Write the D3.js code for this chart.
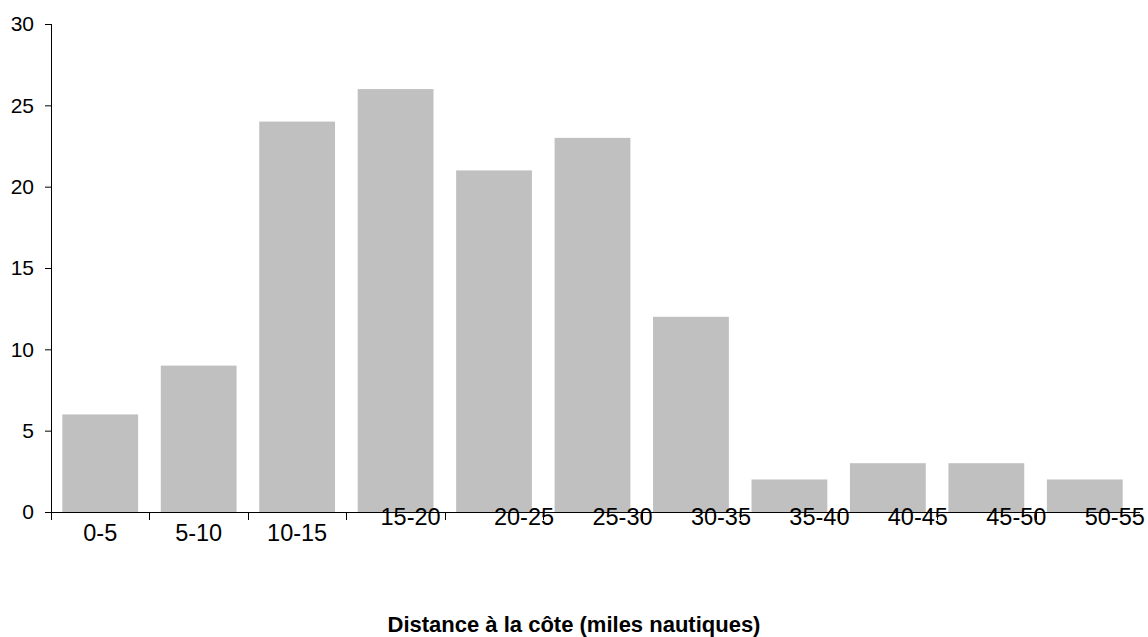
<!DOCTYPE html>
<html>
<head>
<meta charset="utf-8">
<script src="https://cdn.jsdelivr.net/npm/d3@7"></script>
<style>
  body { margin: 0; background: #fff; }
  svg text { font-family: "Liberation Sans", Arial, sans-serif; fill: #000; }
</style>
</head>
<body>
<svg id="chart" width="1148" height="637"></svg>
<script>
var categories = ['0-5', '5-10', '10-15', '15-20', '20-25', '25-30', '30-35', '35-40', '40-45', '45-50', '50-55'];
var counts = [6, 9, 24, 26, 21, 23, 12, 2, 3, 3, 2];
var yTicks = [0, 5, 10, 15, 20, 25, 30];
var xTitle = 'Distance à la côte (miles nautiques)';

var plotLeft = 51, plotRight = 1134, plotTop = 24, plotBottom = 512;

var svg = d3.select('#chart');

var x = d3.scaleBand()
  .domain(categories)
  .range([plotLeft, plotRight])
  .paddingInner(0.23)
  .paddingOuter(0.115);

var y = d3.scaleLinear()
  .domain([0, 30])
  .range([plotBottom, plotTop]);

// bars
svg.append('g')
  .selectAll('rect')
  .data(categories)
  .enter().append('rect')
  .attr('x', function(d) { return x(d); })
  .attr('width', x.bandwidth())
  .attr('y', function(d, i) { return y(counts[i]); })
  .attr('height', function(d, i) { return y(0) - y(counts[i]); })
  .style('fill', '#c0c0c0');

// y axis
var yAxis = svg.append('g')
  .attr('transform', 'translate(' + plotLeft + ',0)')
  .call(d3.axisLeft(y).tickValues(yTicks).tickSize(6).tickSizeOuter(0).tickPadding(11));
yAxis.select('.domain').remove();
yAxis.selectAll('.tick line').attr('stroke', '#000');
yAxis.selectAll('.tick text')
  .style('font-size', '21px')
  .style('font-family', '"Liberation Sans", Arial, sans-serif');

svg.append('line')
  .attr('x1', plotLeft + 0.5).attr('x2', plotLeft + 0.5)
  .attr('y1', plotTop).attr('y2', plotBottom + 8)
  .attr('stroke', '#000');

// x axis
svg.append('line')
  .attr('x1', plotLeft).attr('x2', plotRight + 6)
  .attr('y1', plotBottom + 0.5).attr('y2', plotBottom + 0.5)
  .attr('stroke', '#000');

var gap = x.step() * x.paddingInner() / 2;
svg.append('g')
  .selectAll('line')
  .data(categories.slice(1))
  .enter().append('line')
  .attr('x1', function(d) { return Math.round(x(d) - gap) + 0.5; })
  .attr('x2', function(d) { return Math.round(x(d) - gap) + 0.5; })
  .attr('y1', plotBottom)
  .attr('y2', plotBottom + 8)
  .attr('stroke', '#000');

// category labels (the original staggers them oddly)
svg.append('g')
  .selectAll('text')
  .data(categories)
  .enter().append('text')
  .attr('x', function(d, i) {
    var dx = i < 3 ? 0 : (i === 3 ? 15 : 30);
    return x(d) + x.bandwidth() / 2 + dx;
  })
  .attr('y', function(d, i) { return i < 3 ? plotBottom + 29 : plotBottom + 13; })
  .attr('text-anchor', 'middle')
  .style('font-size', '23.5px')
  .text(function(d) { return d; });

// axis title
svg.append('text')
  .attr('x', 574)
  .attr('y', 632)
  .attr('text-anchor', 'middle')
  .style('font-size', '22px')
  .style('font-weight', 'bold')
  .text(xTitle);
</script>
</body>
</html>
